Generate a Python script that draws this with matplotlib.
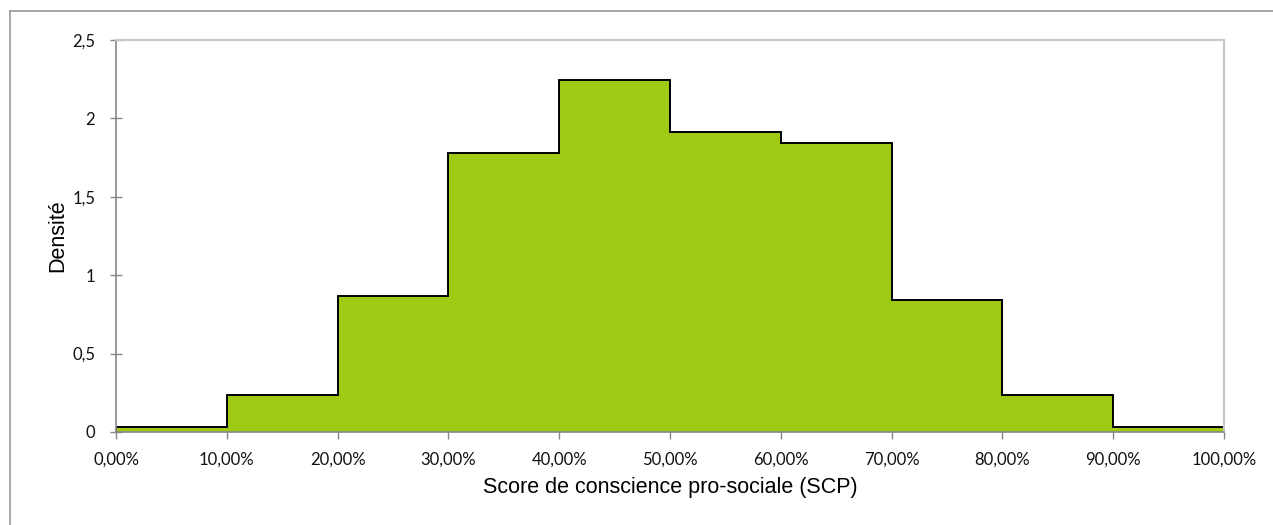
import matplotlib
matplotlib.use("Agg")
import matplotlib.pyplot as plt
from matplotlib.lines import Line2D
from matplotlib.ticker import FuncFormatter, MultipleLocator

# Histogram bins (score as a fraction) and density per bin
bin_edges = [0.0, 0.1, 0.2, 0.3, 0.4, 0.5, 0.6, 0.7, 0.8, 0.9, 1.0]
density = [0.032, 0.236, 0.867, 1.779, 2.247, 1.915, 1.845, 0.842, 0.236, 0.032]

x_label = "Score de conscience pro-sociale (SCP)"
y_label = "Densité"

fill_color = "#9fca14"
axis_grey = "#888888"
frame_grey = "#c8c8c8"

fig = plt.figure(figsize=(12.73, 5.25), dpi=100)
ax = fig.add_axes([116 / 1273, 93 / 525, 1108 / 1273, 392 / 525])

ax.stairs(density, bin_edges, fill=True, color=fill_color, linewidth=0)
ax.stairs(density, bin_edges, fill=False, baseline=0, color="black", linewidth=1.4)

ax.set_xlim(0, 1)
ax.set_ylim(0, 2.5)
ax.xaxis.set_major_locator(MultipleLocator(0.1))
ax.yaxis.set_major_locator(MultipleLocator(0.5))

ax.xaxis.set_major_formatter(FuncFormatter(lambda v, p: f"{v * 100:.2f}%".replace(".", ",")))
ax.yaxis.set_major_formatter(FuncFormatter(lambda v, p: f"{v:g}".replace(".", ",")))

for lab in ax.get_xticklabels() + ax.get_yticklabels():
    lab.set_fontfamily(["Lato", "DejaVu Sans"])
    lab.set_fontsize(12)
    lab.set_color("#111111")

ax.tick_params(axis="x", direction="out", length=5, width=1, color=axis_grey, pad=9)
ax.tick_params(axis="y", direction="inout", length=8, width=1, color=axis_grey, pad=11)

for side in ("left", "bottom"):
    ax.spines[side].set_color(axis_grey)
    ax.spines[side].set_linewidth(1.2)
for side in ("top", "right"):
    ax.spines[side].set_color(frame_grey)
    ax.spines[side].set_linewidth(1.5)

ax.set_xlabel(x_label, fontfamily="Liberation Sans", fontsize=15.5, labelpad=7)
ax.set_ylabel(y_label, fontfamily="Liberation Sans", fontsize=15.5, labelpad=3)

# Outer chart frame (top and left edges)
fx = 9.5 / 1273
fy = 1 - 10.5 / 525
fig.add_artist(Line2D([fx, 1.0], [fy, fy], transform=fig.transFigure, color="#999999", linewidth=1.2))
fig.add_artist(Line2D([fx, fx], [0.0, fy], transform=fig.transFigure, color="#999999", linewidth=1.2))

fig.savefig("out.png", dpi=100)
